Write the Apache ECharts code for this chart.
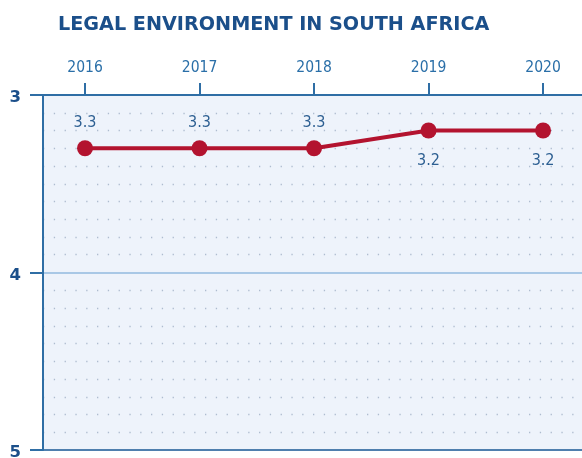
<!DOCTYPE html>
<html><head><meta charset="utf-8">
<script src="https://cdn.jsdelivr.net/npm/echarts@6/dist/echarts.min.js"></script>
<style>html,body{margin:0;padding:0;background:#fff}#c{width:582px;height:458px}</style>
</head><body><div id="c"></div>
<script>
const title = 'LEGAL ENVIRONMENT IN SOUTH AFRICA';
const years = [2016, 2017, 2018, 2019, 2020];
const values = [3.3, 3.3, 3.3, 3.2, 3.2];
const yTicks = [3, 4, 5];

const chart = echarts.init(document.getElementById('c'), null, {renderer: 'canvas'});
const navy = '#1b4f8a';
const axisBlue = '#2f6ea5';
const narrow = 'Liberation Sans Narrow, DejaVu Sans Condensed, sans-serif';
chart.setOption({
  animation: false,
  title: {
    text: title, left: 53, top: 11,
    textStyle: {fontFamily: 'DejaVu Sans', fontWeight: 'bold', fontSize: 19.2, color: navy}
  },
  grid: {left: 43, top: 95, right: 0, bottom: 8, show: true, backgroundColor: '#eef3fb', borderWidth: 0, outerBoundsMode: 'none', containLabel: false},
  xAxis: {
    type: 'value', position: 'top',
    min: 2015.633, max: 2020.34,
    axisLine: {show: true, lineStyle: {color: axisBlue, width: 2}},
    axisTick: {show: true, customValues: years, length: 12, lineStyle: {color: axisBlue, width: 2}},
    axisLabel: {customValues: years, margin: 19, color: '#2a6fa8', fontSize: 15.5, fontFamily: narrow, formatter: v => String(v)},
    splitLine: {show: false}
  },
  yAxis: {
    type: 'value', inverse: true, min: 3, max: 5, interval: 1,
    axisLine: {show: true, lineStyle: {color: axisBlue, width: 2}},
    axisTick: {show: true, length: 13, lineStyle: {color: axisBlue, width: 2}},
    axisLabel: {margin: 22, color: navy, fontSize: 16.5, fontWeight: 'bold', fontFamily: 'DejaVu Sans', verticalAlign: 'top', lineHeight: 6},
    splitLine: {show: true, lineStyle: {color: ['rgba(0,0,0,0)', '#a9c8e6', '#4f7fae'], width: 2}},
    minorTick: {show: false, splitNumber: 10},
    minorSplitLine: {show: true, lineStyle: {color: '#aebccf', width: 1.3, type: [1.3, 9.5]}}
  },
  series: [{
    type: 'line',
    symbol: 'circle', symbolSize: 16,
    lineStyle: {color: '#b3132f', width: 4},
    itemStyle: {color: '#b3132f'},
    label: {
      show: true, fontSize: 16, color: '#2d5f92',
      fontFamily: narrow,
      formatter: p => p.value[1].toFixed(1)
    },
    data: years.map((y, i) => ({
      value: [y, values[i]],
      label: values[i] >= 3.25 ? {position: 'top', distance: 9} : {position: 'bottom', distance: 14}
    }))
  }]
});
</script></body></html>
